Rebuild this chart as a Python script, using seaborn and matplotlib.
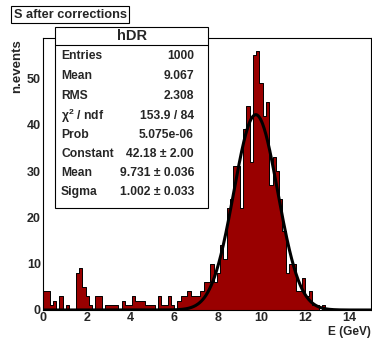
import numpy as np
import pandas as pd
import matplotlib
matplotlib.use("Agg")
import matplotlib.pyplot as plt
from matplotlib.patches import Rectangle
from matplotlib.lines import Line2D
import seaborn as sns

# ---------------- data ----------------
x_min, x_max, n_bins = 0.0, 15.0, 100
counts = [
    4, 4, 1, 2, 0, 3, 0, 1, 0, 0,
    8, 9, 5, 3, 1, 0, 3, 3, 0, 1,
    1, 1, 1, 0, 2, 1, 1, 3, 2, 2,
    2, 1, 1, 1, 0, 3, 1, 1, 3, 1,
    0, 2, 3, 3, 4, 3, 3, 3, 4, 6,
    6, 10, 6, 8, 14, 11, 22, 24, 31, 31,
    22, 39, 44, 32, 55, 56, 49, 42, 45, 27,
    33, 30, 24, 17, 8, 10, 10, 4, 4, 7,
    3, 4, 1, 1, 0, 1, 0, 0, 0, 0,
    0, 0, 0, 0, 0, 0, 0, 0, 0, 0,
]
fit_constant, fit_mean, fit_sigma = 42.18, 9.731, 1.002

stat_labels = ["Entries", "Mean", "RMS", "\u03c7$^{2}$ / ndf", "Prob",
               "Constant", "Mean", "Sigma"]
stat_values = ["1000", "9.067", "2.308", "153.9 / 84", "5.075e-06",
               "42.18 \u00b1 2.00", "9.731 \u00b1 0.036", "1.002 \u00b1 0.033"]
x_ticks = [0, 2, 4, 6, 8, 10, 12, 14]
y_ticks = [0, 10, 20, 30, 40, 50]

# ---------------- figure ----------------
sns.set_style("white")
plt.rcParams["font.family"] = ["Liberation Sans", "DejaVu Sans"]
plt.rcParams["mathtext.fontset"] = "custom"
plt.rcParams["mathtext.rm"] = "Liberation Sans:bold"
plt.rcParams["mathtext.it"] = "Liberation Sans:bold"
plt.rcParams["mathtext.bf"] = "Liberation Sans:bold"
plt.rcParams["mathtext.default"] = "rm"

W, H = 372, 338
fig = plt.figure(figsize=(W / 100, H / 100), dpi=100)

def fx(px):
    return px / W

def fy(py):
    return 1 - py / H

ax_l, ax_r, ax_t, ax_b = 43, 371, 37.7, 310
ax = fig.add_axes([fx(ax_l), fy(ax_b), (ax_r - ax_l) / W, (ax_b - ax_t) / H])

bin_w = (x_max - x_min) / n_bins
centers = x_min + bin_w * (np.arange(n_bins) + 0.5)
df = pd.DataFrame({"E": centers, "n": counts})

sns.histplot(data=df, x="E", weights="n", binwidth=bin_w,
             binrange=(x_min, x_max), element="step",
             fill=True, color="#990000", alpha=1.0, edgecolor="black",
             linewidth=0.7, ax=ax)

xs = np.linspace(x_min, x_max, 600)
ys = fit_constant * np.exp(-0.5 * ((xs - fit_mean) / fit_sigma) ** 2)
sns.lineplot(x=xs, y=ys, color="black", linewidth=2.2, ax=ax, sort=False,
             estimator=None)

ax.set_xlim(x_min, x_max)
ax.set_ylim(0, 1.05 * max(counts))
ax.set_xlabel("")
ax.set_ylabel("")
ax.set_xticks(x_ticks)
ax.set_yticks(y_ticks)
ax.set_xticks(np.arange(0, 15.01, 0.5), minor=True)
ax.set_yticks(np.arange(0, 58.1, 2), minor=True)
ax.tick_params(which="major", direction="in", length=5, width=0.8,
               labelsize=9, pad=1.5)
ax.tick_params(which="minor", direction="in", length=2.5, width=0.8)
ax.tick_params(top=False, right=False, which="both")
for lab in ax.get_xticklabels() + ax.get_yticklabels():
    lab.set_fontweight("bold")
for sp in ax.spines.values():
    sp.set_linewidth(0.8)
    sp.set_color("black")

# axis labels
fig.text(fx(17), fy(39), "n.events", rotation=90, ha="center", va="top",
         fontsize=9.5, fontweight="bold")
fig.text(fx(371), fy(331.5), "E (GeV)", ha="right", va="center",
         fontsize=8.6, fontweight="bold")

# title box
fig.text(fx(70), fy(14.5), "S after corrections", ha="center", va="center",
         fontsize=9.2, fontweight="bold",
         bbox=dict(boxstyle="square,pad=0.2", fc="white", ec="black", lw=0.8))

# stats box
bx0, bx1, by0, by1, bsep = 55, 208, 27, 208, 45
fig.add_artist(Rectangle((fx(bx0), fy(by1)), (bx1 - bx0) / W, (by1 - by0) / H,
                         transform=fig.transFigure, fc="white", ec="black",
                         lw=0.8, zorder=5))
fig.add_artist(Line2D([fx(bx0), fx(bx1)], [fy(bsep), fy(bsep)],
                      transform=fig.transFigure, color="black", lw=0.8,
                      zorder=6))
fig.text(fx((bx0 + bx1) / 2), fy(36), "hDR", ha="center", va="center",
         fontsize=10.5, fontweight="bold", zorder=7)
row_y = [56, 76, 96, 116, 135, 154, 173, 192]
for lab, val, ry in zip(stat_labels, stat_values, row_y):
    fig.text(fx(61), fy(ry), lab, ha="left", va="center", fontsize=8.7,
             fontweight="bold", zorder=7)
    fig.text(fx(194), fy(ry), val, ha="right", va="center", fontsize=8.7,
             fontweight="bold", zorder=7)

fig.savefig("out.png", dpi=100)
